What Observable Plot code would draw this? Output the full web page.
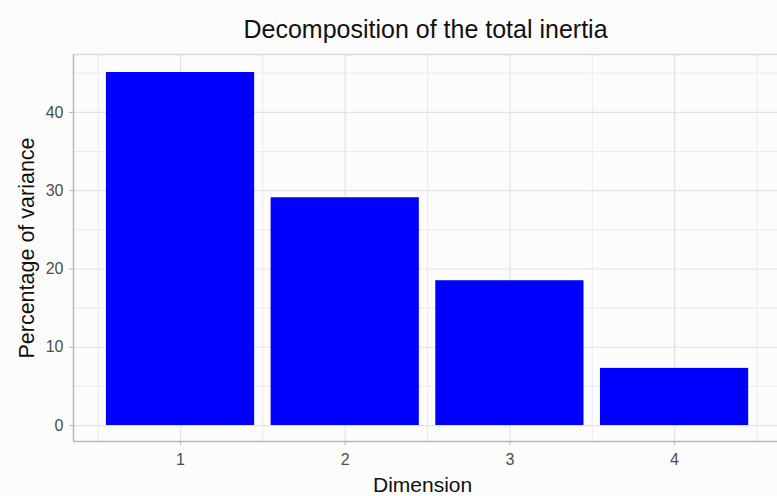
<!DOCTYPE html>
<html>
<head>
<meta charset="utf-8">
<script src="https://cdn.jsdelivr.net/npm/d3@7"></script>
<script src="https://cdn.jsdelivr.net/npm/@observablehq/plot@0.6"></script>
<style>
  body { margin: 0; background: #fcfcfc; font-family: "Liberation Sans", Arial, sans-serif; }
  #title { height: 48px; width: 777px; text-align: center; font-size: 25px; line-height: 25px; box-sizing: border-box; color: #111; }
  #title span { position: relative; left: 37px; top: 17px; }
</style>
</head>
<body>
<div id="title"><span>Decomposition of the total inertia</span></div>
<div id="chart"></div>
<script>
const dimensions = [1, 2, 3, 4];
const variance = [45.1, 29.1, 18.5, 7.3];
const yTicks = [0, 10, 20, 30, 40];
const yMinor = [5, 15, 25, 35, 45];
const xMinor = [0.5, 1.5, 2.5, 3.5, 4.5];

const data = dimensions.map((d, i) => ({dim: d, value: variance[i]}));

const chart = Plot.plot({
  width: 777,
  height: 448,
  marginLeft: 73,
  marginRight: 0,
  marginTop: 6,
  marginBottom: 55,
  style: {background: "#fcfcfc", fontFamily: "Liberation Sans, Arial, sans-serif"},
  x: {domain: [0.35, 4.625], ticks: dimensions, tickFormat: d => String(d), label: null},
  y: {domain: [-2.04, 47.4], ticks: yTicks, label: null},
  marks: [
    Plot.ruleY(yMinor, {stroke: "#ebebeb", strokeWidth: 1}),
    Plot.ruleX(xMinor, {stroke: "#ebebeb", strokeWidth: 1}),
    Plot.ruleY(yTicks, {stroke: "#e3e3e3", strokeWidth: 1.2}),
    Plot.ruleX(dimensions, {stroke: "#e3e3e3", strokeWidth: 1.2}),
    Plot.rect(data, {x1: d => d.dim - 0.45, x2: d => d.dim + 0.45, y1: 0, y2: "value", fill: "#0000ff"}),
    Plot.ruleY([47.4], {stroke: "#d9d9d9", strokeWidth: 1.5}),
    Plot.ruleX([0.35], {stroke: "#b8b8b8", strokeWidth: 1.5}),
    Plot.ruleY([-2.04], {stroke: "#b8b8b8", strokeWidth: 1.5}),
    Plot.axisY(yTicks, {tickSize: 4, tickPadding: 6, fontSize: 16, color: "#4d4d4d", stroke: "#b8b8b8", label: null}),
    Plot.axisX(dimensions, {tickSize: 4, tickPadding: 8, fontSize: 16, color: "#4d4d4d", stroke: "#b8b8b8", tickFormat: d => String(d), label: null}),
    Plot.text(["Percentage of variance"], {frameAnchor: "left", textAnchor: "middle", dx: -46, rotate: -90, fontSize: 21.5, fill: "#111"}),
    Plot.text(["Dimension"], {textAnchor: "middle", dy: 44, fontSize: 21, fill: "#111", x: [2.47], y: [-2.04]})
  ]
});
document.getElementById("chart").appendChild(chart);
</script>
</body>
</html>
